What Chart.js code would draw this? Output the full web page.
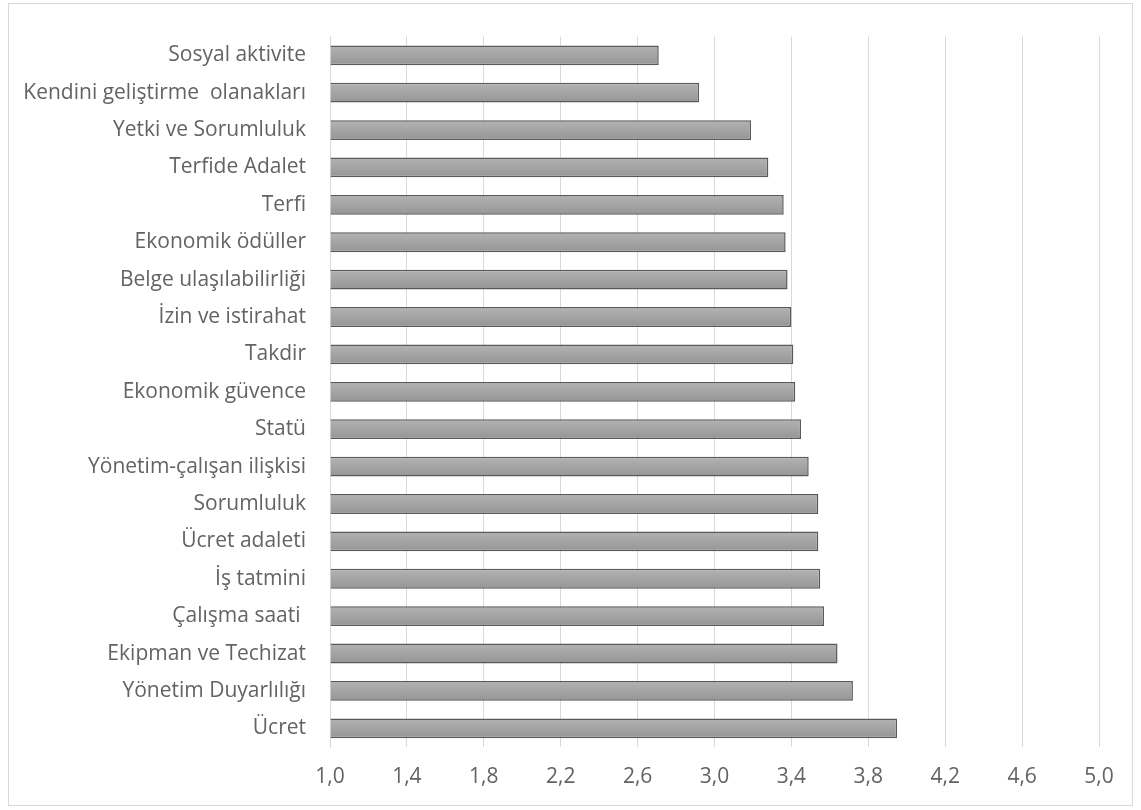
<!DOCTYPE html>
<html lang="tr">
<head>
<meta charset="utf-8">
<title>Memnuniyet boyutları</title>
<script src="https://cdn.jsdelivr.net/npm/chart.js@4.4.1/dist/chart.umd.min.js"></script>
<style>
  html, body { margin: 0; padding: 0; background: #ffffff; }
  #wrap { position: absolute; left: 0; top: 0; width: 1141px; height: 810px; }
</style>
</head>
<body>
<div id="wrap"><canvas id="chart" width="1141" height="810"></canvas></div>
<script>
// Boyutlar (yukarıdan aşağıya)
const categories = [
  'Sosyal aktivite',
  'Kendini geliştirme  olanakları',
  'Yetki ve Sorumluluk',
  'Terfide Adalet',
  'Terfi',
  'Ekonomik ödüller',
  'Belge ulaşılabilirliği',
  'İzin ve istirahat',
  'Takdir',
  'Ekonomik güvence',
  'Statü',
  'Yönetim-çalışan ilişkisi',
  'Sorumluluk',
  'Ücret adaleti',
  'İş tatmini',
  'Çalışma saati ',
  'Ekipman ve Techizat',
  'Yönetim Duyarlılığı',
  'Ücret'
];

// Ortalama puanlar
const meanScores = [
  2.71, 2.92, 3.19, 3.28, 3.36, 3.37, 3.38, 3.40, 3.41, 3.42,
  3.45, 3.49, 3.54, 3.54, 3.55, 3.57, 3.64, 3.72, 3.95
];

// Yatay eksen etiketleri
const xTickLabels = ['1,0', '1,4', '1,8', '2,2', '2,6', '3,0', '3,4', '3,8', '4,2', '4,6', '5,0'];

const FONT = '"Open Sans", Lato, "Noto Sans", sans-serif';
const TEXT = '#636363';

// Çerçeve
const frame = {
  id: 'frame',
  beforeDraw(chart) {
    const ctx = chart.ctx;
    ctx.save();
    ctx.fillStyle = '#ffffff';
    ctx.fillRect(0, 0, chart.width, chart.height);
    ctx.strokeStyle = '#d9d9d9';
    ctx.lineWidth = 1;
    ctx.strokeRect(8.5, 3.5, 1124, 802);
    ctx.restore();
  }
};

// Çubuklar için dikey gri geçiş
function barGradient(context) {
  const chart = context.chart;
  const y = chart.scales.y;
  if (!y || !chart.chartArea) return '#a6a6a6';
  const cy = y.getPixelForTick(context.dataIndex);
  const h = 10;
  const g = chart.ctx.createLinearGradient(0, cy - h, 0, cy + h);
  g.addColorStop(0, '#b3b3b3');
  g.addColorStop(1, '#959595');
  return g;
}

new Chart(document.getElementById('chart'), {
  type: 'bar',
  data: {
    labels: categories,
    datasets: [{
      data: meanScores,
      base: 1,
      backgroundColor: barGradient,
      borderColor: '#5a5a5a',
      borderWidth: 1.5,
      borderSkipped: 'start',
      barPercentage: 0.53,
      categoryPercentage: 1
    }]
  },
  options: {
    indexAxis: 'y',
    responsive: false,
    animation: false,
    devicePixelRatio: 1,
    layout: { padding: { left: 0, right: 42, top: 33, bottom: 0 } },
    plugins: {
      legend: { display: false },
      tooltip: { enabled: false }
    },
    scales: {
      x: {
        type: 'linear',
        min: 1,
        max: 5,
        border: { display: false },
        grid: { color: '#d9d9d9', lineWidth: 1, drawTicks: false },
        ticks: {
          stepSize: 0.4,
          padding: 17,
          color: TEXT,
          font: { family: FONT, size: 21 },
          callback: (v, i) => xTickLabels[i]
        },
        afterFit(scale) { scale.height = 63; }
      },
      y: {
        border: { display: true, color: '#d9d9d9', width: 1 },
        grid: { display: false, drawTicks: false },
        ticks: {
          padding: 24,
          color: TEXT,
          font: { family: FONT, size: 21 },
          autoSkip: false
        },
        afterFit(scale) { scale.width = 330; }
      }
    }
  },
  plugins: [frame]
});
</script>
</body>
</html>
